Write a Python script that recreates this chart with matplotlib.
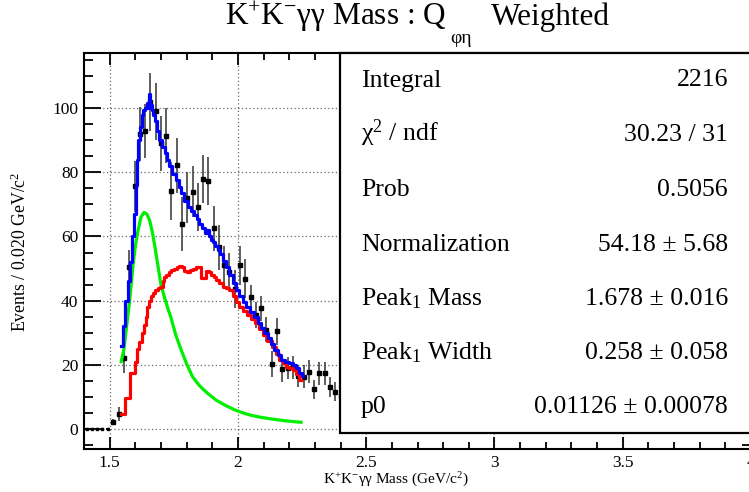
import matplotlib
matplotlib.use("Agg")
import matplotlib.pyplot as plt
from matplotlib.ticker import MultipleLocator, FuncFormatter
from matplotlib.patches import Rectangle

plt.rcParams['font.family'] = ['Liberation Serif', 'DejaVu Serif']
plt.rcParams['mathtext.fontset'] = 'custom'
plt.rcParams['mathtext.rm'] = 'Liberation Serif'
plt.rcParams['mathtext.it'] = 'Liberation Serif:italic'
plt.rcParams['mathtext.bf'] = 'Liberation Serif:bold'

# histogram points (weighted events per 0.020 GeV/c^2 bin)
mass = [1.514, 1.535, 1.555, 1.576, 1.597, 1.617, 1.638, 1.658, 1.679, 1.699,
        1.720, 1.741, 1.761, 1.782, 1.802, 1.823, 1.844, 1.864, 1.885, 1.905,
        1.926, 1.947, 1.967, 1.988, 2.008, 2.029, 2.050, 2.070, 2.091, 2.111,
        2.132, 2.153, 2.173, 2.194, 2.214, 2.235, 2.256, 2.276, 2.297, 2.317,
        2.338, 2.359, 2.379, 2.400]
counts = [2.2, 4.8, 22.0, 50.4, 75.6, 92.0, 92.9, 102.0, 99.0, 89.0,
          91.4, 74.2, 82.2, 63.9, 72.1, 74.0, 69.3, 78.0, 77.3, 62.6,
          56.6, 51.0, 48.9, 43.6, 51.0, 46.9, 41.0, 35.5, 37.6, 31.0,
          20.3, 30.4, 18.7, 19.0, 19.2, 16.5, 16.3, 17.9, 12.4, 17.3,
          17.3, 13.1, 11.6, 10.4]
errors = [1.0, 2.2, 4.5, 5.5, 8.0, 8.5, 8.5, 9.0, 9.0, 8.5,
          8.5, 9.0, 8.5, 8.5, 8.0, 8.0, 7.5, 7.5, 7.5, 7.0,
          7.0, 6.0, 6.0, 6.0, 6.0, 6.0, 4.0, 4.0, 4.0, 4.0,
          4.0, 4.2, 4.0, 3.5, 3.5, 3.5, 3.5, 3.5, 3.0, 3.5,
          3.5, 3.0, 3.0, 3.0]
mass_empty = [1.411, 1.431, 1.452, 1.472, 1.493]
counts_empty = [0, 0, 0, 0, 0]

# total fit (blue)
fit_x = [1.545, 1.556, 1.565, 1.575, 1.585, 1.592, 1.598, 1.604, 1.608, 1.615,
         1.621, 1.628, 1.634, 1.641, 1.647, 1.652, 1.656, 1.661, 1.667, 1.673,
         1.680, 1.688, 1.699, 1.709, 1.719, 1.728, 1.738, 1.750, 1.764, 1.774,
         1.784, 1.797, 1.810, 1.823, 1.836, 1.845, 1.855, 1.865, 1.875, 1.884,
         1.892, 1.900, 1.907, 1.917, 1.927, 1.934, 1.947, 1.960, 1.973, 1.986,
         1.999, 2.012, 2.025, 2.038, 2.054, 2.070, 2.083, 2.096, 2.109, 2.122,
         2.135, 2.148, 2.161, 2.174, 2.190, 2.207, 2.220, 2.233, 2.243, 2.253]
fit_y = [26.0, 32.0, 40.0, 46.0, 52.0, 60.0, 67.0, 76.0, 84.0, 90.0,
         94.0, 98.0, 99.5, 100.0, 101.5, 100.0, 104.5, 101.0, 99.5, 98.0,
         96.0, 93.0, 90.0, 88.0, 86.0, 84.0, 82.0, 79.5, 77.5, 75.5,
         73.5, 71.0, 69.3, 68.0, 66.7, 65.5, 64.0, 62.5, 61.0, 62.0,
         60.0, 59.0, 58.4, 57.0, 55.8, 54.5, 52.5, 50.6, 48.0, 45.4,
         43.3, 41.3, 39.5, 38.1, 36.5, 35.0, 33.0, 31.4, 30.0, 28.3,
         26.5, 24.6, 23.0, 21.5, 21.0, 20.5, 19.8, 18.9, 17.5, 16.5]

# background (red)
bkg_x = [1.546, 1.556, 1.565, 1.575, 1.585, 1.595, 1.600, 1.605, 1.611, 1.620,
         1.630, 1.637, 1.644, 1.650, 1.657, 1.663, 1.672, 1.682, 1.692, 1.702,
         1.710, 1.715, 1.725, 1.734, 1.745, 1.755, 1.767, 1.777, 1.786, 1.796,
         1.806, 1.820, 1.832, 1.843, 1.852, 1.862, 1.870, 1.882, 1.890, 1.900,
         1.910, 1.920, 1.935, 1.947, 1.960, 1.973, 1.986, 2.000, 2.012, 2.028,
         2.044, 2.060, 2.077, 2.090, 2.103, 2.120, 2.142, 2.155, 2.168, 2.180,
         2.194, 2.208, 2.220, 2.233, 2.246]
bkg_y = [4.7, 4.7, 9.6, 9.6, 17.3, 17.3, 21.0, 21.0, 25.0, 27.0,
         30.0, 32.5, 35.0, 38.0, 40.0, 41.3, 42.5, 43.3, 44.0, 44.2,
         46.0, 47.5, 48.0, 49.0, 49.5, 50.0, 50.4, 50.8, 50.6, 49.3,
         49.0, 49.5, 49.8, 50.6, 50.4, 47.0, 47.0, 49.2, 49.0, 48.0,
         47.3, 46.5, 45.5, 44.4, 43.8, 43.3, 41.3, 39.5, 38.1, 36.8,
         35.5, 34.3, 33.0, 31.2, 29.3, 27.5, 25.7, 23.5, 21.5, 20.5,
         19.4, 19.0, 18.4, 17.2, 15.3]

# peak (green)
peak_x = [1.545, 1.556, 1.569, 1.578, 1.591, 1.601, 1.611, 1.622, 1.634, 1.645,
          1.656, 1.666, 1.676, 1.688, 1.700, 1.712, 1.725, 1.738, 1.757, 1.777,
          1.800, 1.823, 1.850, 1.882, 1.915, 1.950, 1.986, 2.020, 2.050, 2.085,
          2.116, 2.150, 2.180, 2.215, 2.246]
peak_y = [21.0, 25.0, 34.0, 40.0, 51.0, 57.5, 62.0, 66.0, 67.5, 67.0,
          65.0, 61.5, 57.0, 51.0, 45.0, 41.5, 38.0, 35.0, 29.5, 25.0,
          20.3, 16.3, 13.5, 11.1, 9.0, 7.4, 6.0, 5.0, 4.3, 3.7,
          3.3, 2.9, 2.6, 2.3, 2.1]

stat_names = ["Integral", "χ$^{2}$ / ndf", "Prob", "Normalization",
              "Peak$_{1}$ Mass", "Peak$_{1}$ Width", "p0"]
stat_values = ["2216", "30.23 / 31", "0.5056", "54.18 ± 5.68",
               "1.678 ± 0.016", "0.258 ± 0.058", "0.01126 ± 0.00078"]

W, H = 749, 492
fig = plt.figure(figsize=(W / 100, H / 100), dpi=100)
ax = fig.add_axes([84 / W, 1 - 449 / H, (751 - 84) / W, (449 - 53) / H])

ax.grid(True, which='major', linestyle=(0, (1, 2)), color='#666666', lw=0.9)
ax.set_axisbelow(True)

ax.errorbar(mass, counts, yerr=errors, fmt='s', color='black', ms=2.6,
            ecolor='#333333', elinewidth=1.1, capsize=0, zorder=3)
ax.errorbar(mass_empty, counts_empty, xerr=0.007, fmt='s', color='black', ms=2.0,
            ecolor='black', elinewidth=1.6, capsize=0, zorder=3)

ax.plot(peak_x, peak_y, color='#00ee00', lw=2.3, zorder=4)
ax.plot(bkg_x, bkg_y, color='#ff0000', lw=2.3, drawstyle='steps-mid', zorder=4)
ax.plot(fit_x, fit_y, color='#0000ff', lw=2.3, drawstyle='steps-mid', zorder=5)

ax.set_xlim(1.4, 4.0)
ax.set_ylim(-6.24, 117.2)
ax.xaxis.set_major_locator(MultipleLocator(0.5))
ax.xaxis.set_minor_locator(MultipleLocator(0.1))
ax.yaxis.set_major_locator(MultipleLocator(20))
ax.yaxis.set_minor_locator(MultipleLocator(5))
ax.xaxis.set_major_formatter(FuncFormatter(lambda v, p: '%g' % v))
ax.yaxis.set_major_formatter(FuncFormatter(lambda v, p: '%g' % v))

ax.tick_params(which='both', direction='in', top=True, right=True, width=1.3,
               labelsize=12.5, colors='black')
ax.tick_params(axis='x', which='major', length=8.5, pad=4)
ax.tick_params(axis='x', which='minor', length=5)
ax.tick_params(axis='y', which='major', length=12, pad=4)
ax.tick_params(axis='y', which='minor', length=6.5)
for s in ax.spines.values():
    s.set_linewidth(1.5)

# stats box
box = Rectangle((340 / W, 1 - 432.5 / H), 0.7, (432.5 - 53) / H,
                transform=fig.transFigure, facecolor='white', edgecolor='black',
                lw=1.6, zorder=10)
fig.add_artist(box)
baselines = [86.5, 141, 196, 251, 305, 359, 413]
for name, val, b in zip(stat_names, stat_values, baselines):
    fig.text(361 / W, 1 - b / H, name, ha='left', va='baseline',
             fontsize=18.5, zorder=11)
    fig.text(728 / W, 1 - b / H, val, ha='right', va='baseline',
             fontsize=18.5, zorder=11)

# title, with the deep subscript placed by hand
fig.text(447 / W, 1 - 25 / H, "K$^{+}$K$^{-}$γγ Mass : Q",
         ha='right', va='baseline', fontsize=22.5)
fig.text(450 / W, 1 - 43 / H, "φη", ha='left', va='baseline', fontsize=14)
fig.text(491 / W, 1 - 25 / H, "Weighted", ha='left', va='baseline', fontsize=22.5)

fig.text(20 / W, 1 - 252 / H, "Events / 0.020 GeV/c$^{2}$", rotation=90,
         ha='center', va='center', fontsize=12.8)
fig.text(396 / W, 1 - 480 / H, "K$^{+}$K$^{-}$γγ Mass (GeV/c$^{2}$)",
         ha='center', va='center', fontsize=11)

fig.savefig('out.png', dpi=100)
